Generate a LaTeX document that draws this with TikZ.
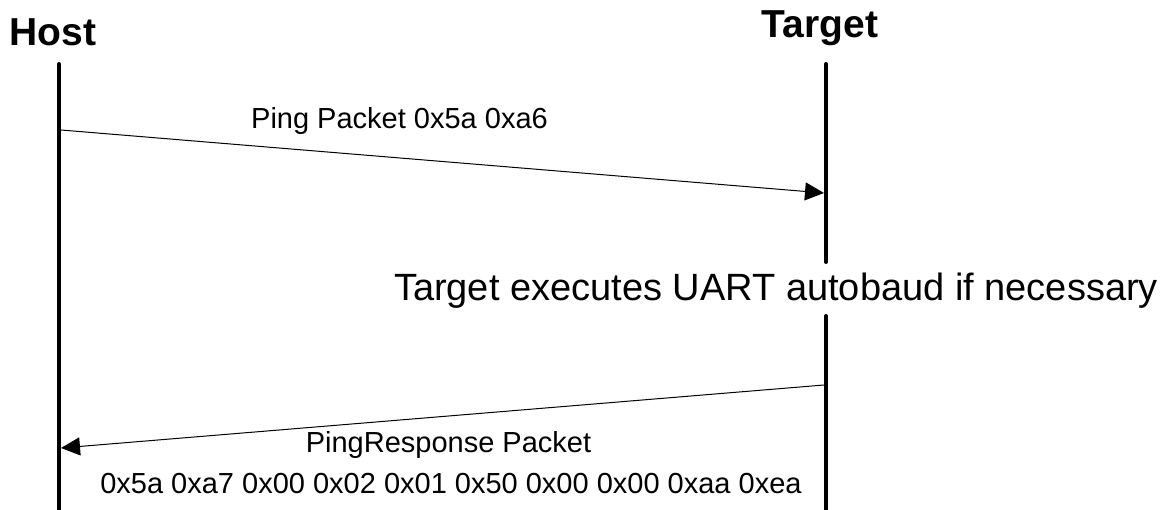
\documentclass[tikz,border=0pt]{standalone}
\usepackage{fontspec}
\setmainfont{Liberation Sans}
\usetikzlibrary{arrows.meta}
\begin{document}
\begin{tikzpicture}[x=1pt,y=-1pt,
  title/.style={font=\fontsize{39}{42}\selectfont\bfseries, anchor=base, inner sep=0pt},
  lbl/.style={font=\fontsize{29}{31}\selectfont, anchor=base, inner sep=0pt},
  big/.style={font=\fontsize{38}{41}\selectfont, anchor=base, inner sep=0pt},
  lifeline/.style={line width=4pt, line cap=round},
  msg/.style={line width=1pt, -{Triangle[length=19pt,width=18pt]}}]
\useasboundingbox (0,0) rectangle (1162,510);
% titles
\node[title] (host) at (53,46) {Host};
\node[title] (target) at (820,38) {Target};
% lifelines
\coordinate (hTop) at (59,64);
\coordinate (hBot) at (59,512);
\coordinate (tTop) at (826,64);
\coordinate (tGapA) at (826,262);
\coordinate (tGapB) at (826,316);
\coordinate (tBot) at (826,512);
\draw[lifeline] (hTop) -- (hBot);
\draw[lifeline] (tTop) -- (tGapA);
\draw[lifeline] (tGapB) -- (tBot);
% messages
\coordinate (m1s) at (61,130);
\coordinate (m1e) at (824,193);
\coordinate (m2s) at (824,385);
\coordinate (m2e) at (61,448);
\draw[msg] (m1s) -- (m1e);
\draw[msg] (m2s) -- (m2e);
% labels
\node[lbl] (l1) at (399.5,129) {Ping Packet 0x5a 0xa6};
\node[big] (note) at (776,300.5) {Target executes UART autobaud if necessary};
\node[lbl] (l2) at (448.5,452) {PingResponse Packet};
\node[lbl] (l3) at (451,493) {0x5a 0xa7 0x00 0x02 0x01 0x50 0x00 0x00 0xaa 0xea};
\end{tikzpicture}
\end{document}
